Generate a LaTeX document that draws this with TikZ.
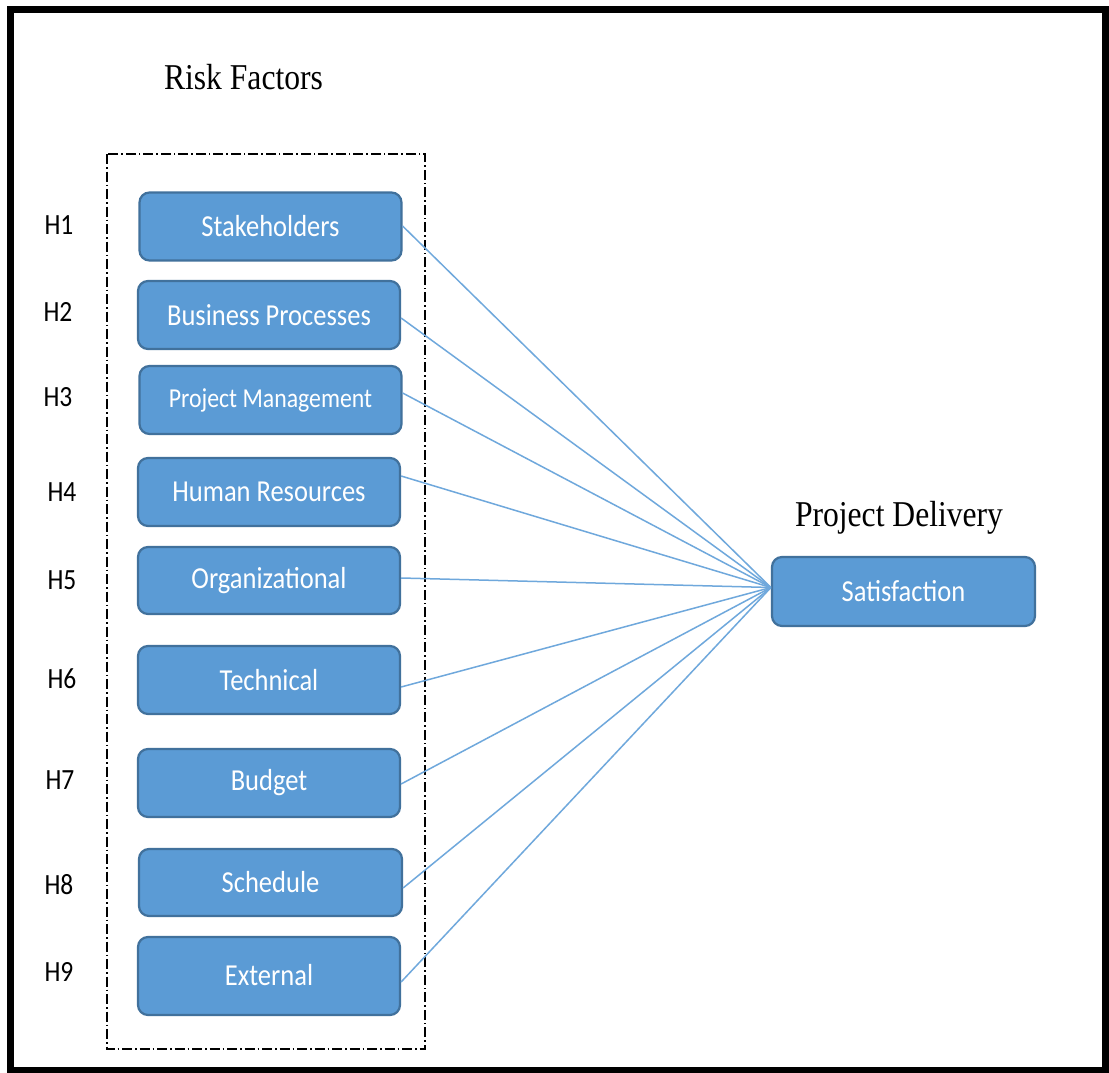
\documentclass[tikz,border=0pt]{standalone}
\usepackage{fontspec}
\usepackage{graphicx}
\setmainfont{Liberation Serif}
\newfontfamily\boxfont{Carlito}
\definecolor{boxfill}{HTML}{5B9BD5}
\definecolor{boxedge}{HTML}{41719C}
\definecolor{linkblue}{HTML}{6FA8DC}
\newcommand{\vstretch}[1]{\scalebox{1}[1.15]{#1}}
\newcommand{\vlow}[1]{\raisebox{-2pt}{\scalebox{1}[1.15]{#1}}}
\begin{document}
\begin{tikzpicture}[x=1pt,y=-1pt,
  factor/.style={draw=boxedge, line width=2.2pt, fill=boxfill, rounded corners=10pt,
    minimum width=262pt, minimum height=68pt, inner sep=0pt, text=white,
    font=\boxfont\fontsize{26.5}{30}\selectfont},
  hlabel/.style={font=\boxfont\fontsize{25.5}{30}\selectfont, inner sep=0pt},
  title/.style={font=\fontsize{31.6}{36}\selectfont, inner sep=0pt},
  link/.style={draw=linkblue, line width=1.5pt}]
\useasboundingbox (0,0) rectangle (1109,1073);
\fill[white] (0,0) rectangle (1109,1073);
\draw[line width=7pt] (10,10) rectangle (1105.5,1070.5);
\draw[line width=1.5pt, dash pattern=on 10pt off 3pt on 1.5pt off 3pt] (107,154) rectangle (425,1049);
\node[title] (rf) at (243.5,77) {\vstretch{Risk Factors}};
\node[title] (pd) at (899,518) {\vstretch{Project Delivery}};
\node[factor] (f1) at (270.5,226.5) {\vlow{Stakeholders}};
\node[factor] (f2) at (269,315) {\vlow{Business Processes}};
\node[factor, font=\boxfont\fontsize{23.8}{28}\selectfont] (f3) at (270.5,400) {\vlow{Project Management}};
\node[factor] (f4) at (269,492) {\vlow{Human Resources}};
\node[factor, minimum height=67pt] (f5) at (269,580.5) {\vlow{Organizational}};
\node[factor] (f6) at (269,680) {\vlow{Technical}};
\node[factor] (f7) at (269,783) {\vlow{Budget}};
\node[factor, minimum width=263pt, minimum height=67pt] (f8) at (270.5,882.5) {\vlow{Schedule}};
\node[factor, minimum height=78pt] (f9) at (269,976) {\raisebox{3pt}{\vstretch{External}}};
\node[factor, minimum width=263pt, minimum height=69pt] (sat) at (903.5,591.5) {\vlow{Satisfaction}};
\node[hlabel] (h1) at (59,225) {\vstretch{H1}};
\node[hlabel] (h2) at (58,312) {\vstretch{H2}};
\node[hlabel] (h3) at (58,397.5) {\vstretch{H3}};
\node[hlabel] (h4) at (62,492.5) {\vstretch{H4}};
\node[hlabel] (h5) at (62,580.5) {\vstretch{H5}};
\node[hlabel] (h6) at (62,678.5) {\vstretch{H6}};
\node[hlabel] (h7) at (60,780.5) {\vstretch{H7}};
\node[hlabel] (h8) at (59,884.5) {\vstretch{H8}};
\node[hlabel] (h9) at (59,971.5) {\vstretch{H9}};
\coordinate (hub) at ([yshift=4pt]sat.west);
\draw[link] ([yshift=0.5pt]f1.east) -- (hub);
\draw[link] ([yshift=-3pt]f2.east) -- (hub);
\draw[link] ([yshift=7pt]f3.east) -- (hub);
\draw[link] ([yshift=16pt]f4.east) -- (hub);
\draw[link] ([yshift=2.5pt]f5.east) -- (hub);
\draw[link] ([yshift=-7pt]f6.east) -- (hub);
\draw[link] ([yshift=-1pt]f7.east) -- (hub);
\draw[link] ([yshift=-5.5pt]f8.east) -- (hub);
\draw[link] ([yshift=-6pt]f9.east) -- (hub);
\end{tikzpicture}
\end{document}
